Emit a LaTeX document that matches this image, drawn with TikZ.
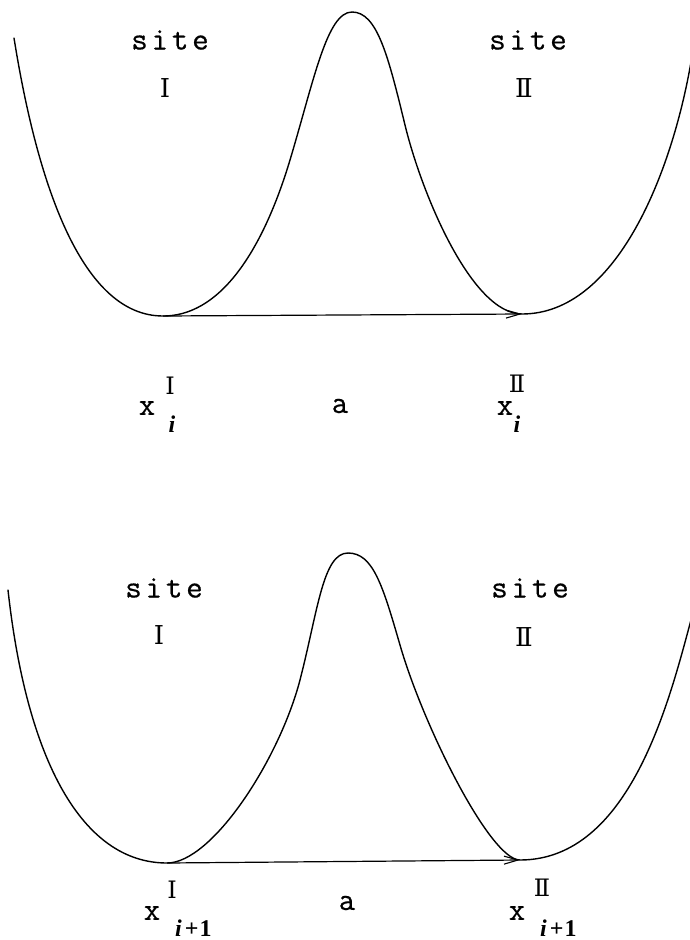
\documentclass[tikz,border=0pt]{standalone}
\usepackage{fontspec}
\setmainfont{Liberation Serif}
\newfontfamily\typew{Latin Modern Mono}[LetterSpace=12,FakeBold=0.5]
\newfontfamily\numfont{DejaVu Serif}
\usetikzlibrary{arrows.meta}
\begin{document}
\begin{tikzpicture}[x=1pt,y=-1pt,
  curve/.style={line width=1.4pt, line join=round, line cap=round},
  link/.style={line width=1.2pt, -{Straight Barb[length=14pt,width=8pt,line width=1.1pt]}},
  sitelbl/.style={font=\typew\fontsize{32}{32}\selectfont, inner sep=0pt},
  numlbl/.style={font=\numfont\fontsize{26}{26}\selectfont, inner sep=0pt},
  varx/.style={font=\typew\fontsize{32}{32}\selectfont, inner sep=0pt},
  supl/.style={font=\numfont\fontsize{24}{24}\selectfont, inner sep=0pt},
  subl/.style={font=\bfseries\itshape\fontsize{24}{24}\selectfont, inner sep=0pt},
]
\useasboundingbox (0,0) rectangle (690,940);
\fill[white] (0,0) rectangle (690,940);

% ---------- top panel ----------
\coordinate (topL1) at (14,38);
\coordinate (minL1) at (163,316);
\coordinate (infL1) at (290,160);
\coordinate (peak1) at (352,12);
\coordinate (infR1) at (405,125);
\coordinate (minR1) at (522,314);
\coordinate (topR1) at (691,62);
\draw[curve] (topL1) .. controls (38,188) and (83,316) .. (minL1)
  .. controls (233,316) and (272,220) .. (infL1)
  .. controls (314,80) and (327,12) .. (peak1)
  .. controls (377,12) and (388,55) .. (infR1)
  .. controls (422,195) and (472,314) .. (minR1)
  .. controls (617,314) and (672,172) .. (topR1);
\draw[link] (minL1) -- (minR1);

\node[sitelbl] (sL1) at (170,40) {site};
\node[numlbl]  (nL1) at (165,88) {Ⅰ};
\node[sitelbl] (sR1) at (528,40) {site};
\node[numlbl]  (nR1) at (524,88) {Ⅱ};

\node[varx] (xL1) at (147,408) {x};
\node[supl] (pL1) at (170,386) {Ⅰ};
\node[subl] (bL1) at (172,424) {i};
\node[varx] (a1)  at (340,406) {a};
\node[varx] (xR1) at (505,408) {x};
\node[supl] (pR1) at (517,384) {Ⅱ};
\node[subl] (bR1) at (517,424) {i};

% ---------- bottom panel ----------
\coordinate (topL2) at (8,590);
\coordinate (minL2) at (167,863);
\coordinate (infL2) at (300,680);
\coordinate (peak2) at (348,553);
\coordinate (infR2) at (400,645);
\coordinate (minR2) at (520,860);
\coordinate (topR2) at (691,620);
\draw[curve] (topL2) .. controls (26.7,760) and (82,863) .. (minL2)
  .. controls (212,863) and (279,760) .. (infL2)
  .. controls (318,610) and (323,553) .. (peak2)
  .. controls (373,553) and (382.6,585) .. (infR2)
  .. controls (423,725) and (490,860) .. (minR2)
  .. controls (630,860) and (669.4,700) .. (topR2);
\draw[link] (minL2) -- (minR2);

\node[sitelbl] (sL2) at (164,588) {site};
\node[numlbl]  (nL2) at (159,635) {Ⅰ};
\node[sitelbl] (sR2) at (530,588) {site};
\node[numlbl]  (nR2) at (524,637) {Ⅱ};

\node[varx] (xL2) at (152,913) {x};
\node[supl] (pL2) at (172,890) {Ⅰ};
\node[subl, anchor=base west] (bL2) at (175,936) {i\hspace{3pt}\textup{+}\hspace{1pt}\textup{1}};
\node[varx] (a2)  at (347,903) {a};
\node[varx] (xR2) at (517,913) {x};
\node[supl] (pR2) at (542,888) {Ⅱ};
\node[subl, anchor=base west] (bR2) at (540,936) {i\hspace{3pt}\textup{+}\hspace{1pt}\textup{1}};
\end{tikzpicture}
\end{document}
